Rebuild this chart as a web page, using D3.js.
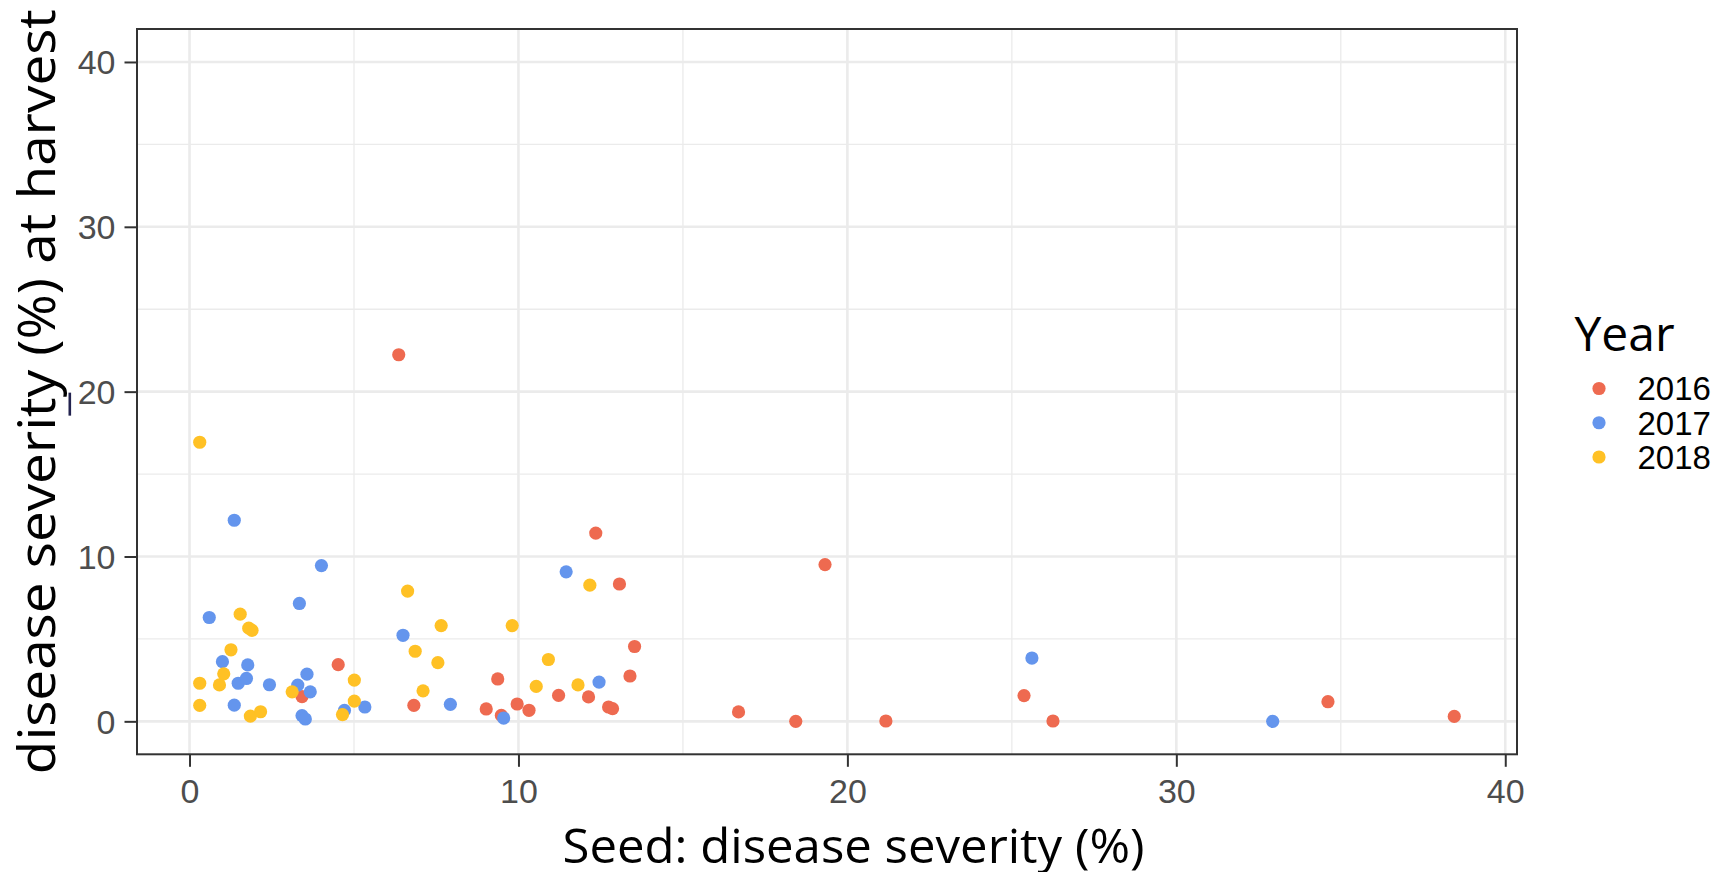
<!DOCTYPE html>
<html>
<head>
<meta charset="utf-8">
<script src="https://cdn.jsdelivr.net/npm/d3@7"></script>
<style>
  html, body { margin: 0; padding: 0; background: #ffffff; }
  svg { display: block; }
</style>
</head>
<body>
<svg id="chart" width="1730" height="872"></svg>
<script>
// Seed disease severity (%) vs disease severity (%) at harvest, by year
const years = ["2016", "2017", "2018"];
const yearColors = ["#EE6A50", "#6495ED", "#FFC125"];

const seed2016    = [6.36, 3.42, 4.52, 6.82, 9.02, 9.37, 9.48, 9.96, 10.32, 11.22, 12.13, 12.35, 13.07, 12.74, 12.86, 13.53, 13.39, 16.69, 18.43, 19.32, 21.17, 25.37, 26.25, 34.61, 38.45];
const harvest2016 = [22.24, 1.50, 3.44, 0.97, 0.75, 2.57, 0.36, 1.05, 0.67, 1.57, 1.48, 11.42, 8.33, 0.87, 0.77, 4.54, 2.75, 0.57, 0.00, 9.51, 0.02, 1.56, 0.02, 1.19, 0.30];

const seed2017    = [0.60, 1.00, 1.36, 1.36, 1.48, 1.73, 1.77, 2.43, 3.29, 3.34, 3.42, 3.52, 3.57, 3.67, 4.01, 4.71, 5.33, 6.49, 7.93, 9.55, 11.45, 12.45, 25.61, 32.93];
const harvest2017 = [6.30, 3.62, 12.20, 0.98, 2.31, 2.60, 3.42, 2.22, 2.20, 7.15, 0.35, 0.14, 2.86, 1.79, 9.45, 0.66, 0.87, 5.22, 1.03, 0.20, 9.07, 2.38, 3.84, 0.00];

const seed2018    = [0.31, 0.31, 0.31, 0.91, 1.04, 1.26, 1.54, 1.80, 1.90, 1.85, 2.16, 3.12, 4.65, 5.01, 5.01, 6.63, 6.86, 7.10, 7.55, 7.65, 9.81, 10.54, 10.91, 11.81, 12.17];
const harvest2018 = [16.93, 2.31, 0.97, 2.21, 2.88, 4.34, 6.50, 5.65, 5.52, 0.32, 0.58, 1.79, 0.41, 2.50, 1.23, 7.90, 4.25, 1.85, 3.56, 5.81, 5.81, 2.12, 3.75, 2.21, 8.26];

const xTicks = [0, 10, 20, 30, 40];
const yTicks = [0, 10, 20, 30, 40];
const xMinor = [5, 15, 25, 35];
const yMinor = [5, 15, 25, 35];
const yLimits = [0, 40];

const xTitle = "Seed: disease severity (%)";
const yTitle = "disease severity (%) at harvest";
const legendTitle = "Year";

const series = [
  { year: years[0], color: yearColors[0], xs: seed2016, ys: harvest2016 },
  { year: years[1], color: yearColors[1], xs: seed2017, ys: harvest2017 },
  { year: years[2], color: yearColors[2], xs: seed2018, ys: harvest2018 }
];

// panel geometry
const panel = { left: 137, right: 1517, top: 29, bottom: 754.3 };

// ggplot-style 5% expansion of the x data range and of the y limits
const allX = [].concat(seed2016, seed2017, seed2018);
const [xLo, xHi] = d3.extent(allX);
const xPad = (xHi - xLo) * 0.05;
const yPad = (yLimits[1] - yLimits[0]) * 0.05;

const x = d3.scaleLinear().domain([xLo - xPad, xHi + xPad]).range([panel.left, panel.right]);
const y = d3.scaleLinear().domain([yLimits[0] - yPad, yLimits[1] + yPad]).range([panel.bottom, panel.top]);

const svg = d3.select("#chart");
const gridColor = "#EBEBEB";
const inkColor = "#333333";

// gridlines
const grid = svg.append("g");
grid.selectAll("line.xminor").data(xMinor).join("line")
  .attr("x1", d => x(d)).attr("x2", d => x(d))
  .attr("y1", panel.top).attr("y2", panel.bottom)
  .attr("stroke", gridColor).attr("stroke-width", 1.3);
grid.selectAll("line.yminor").data(yMinor).join("line")
  .attr("y1", d => y(d)).attr("y2", d => y(d))
  .attr("x1", panel.left).attr("x2", panel.right)
  .attr("stroke", gridColor).attr("stroke-width", 1.3);
grid.selectAll("line.xmajor").data(xTicks).join("line")
  .attr("x1", d => x(d)).attr("x2", d => x(d))
  .attr("y1", panel.top).attr("y2", panel.bottom)
  .attr("stroke", gridColor).attr("stroke-width", 2.6);
grid.selectAll("line.ymajor").data(yTicks).join("line")
  .attr("y1", d => y(d)).attr("y2", d => y(d))
  .attr("x1", panel.left).attr("x2", panel.right)
  .attr("stroke", gridColor).attr("stroke-width", 2.6);

// points, drawn year by year
const pts = svg.append("g");
series.forEach(s => {
  pts.append("g").selectAll("circle").data(d3.range(s.xs.length)).join("circle")
    .attr("cx", i => x(s.xs[i]))
    .attr("cy", i => y(s.ys[i]))
    .attr("r", 6.6)
    .attr("fill", s.color);
});

// panel border
svg.append("rect")
  .attr("x", panel.left).attr("y", panel.top)
  .attr("width", panel.right - panel.left).attr("height", panel.bottom - panel.top)
  .attr("fill", "none").attr("stroke", inkColor).attr("stroke-width", 2);

// axes
const xAxis = d3.axisBottom(x).tickValues(xTicks).tickSize(12.5).tickPadding(12).tickFormat(d3.format("d"));
const yAxis = d3.axisLeft(y).tickValues(yTicks).tickSize(12.5).tickPadding(9).tickFormat(d3.format("d"));

const gx = svg.append("g").attr("transform", `translate(0,${panel.bottom})`).call(xAxis);
const gy = svg.append("g").attr("transform", `translate(${panel.left},0)`).call(yAxis);
[gx, gy].forEach(g => {
  g.select(".domain").remove();
  g.selectAll(".tick line").attr("stroke", inkColor).attr("stroke-width", 2);
  g.selectAll(".tick text")
    .attr("fill", "#4D4D4D")
    .style("font-family", "'Liberation Sans', Arial, sans-serif")
    .style("font-size", "34px");
});
gx.selectAll(".tick text").attr("dy", "0.72em");
gy.selectAll(".tick text").attr("dy", "0.35em");

// axis titles
svg.append("text")
  .attr("x", 853.5).attr("y", 863)
  .attr("text-anchor", "middle")
  .attr("textLength", 582).attr("lengthAdjust", "spacingAndGlyphs")
  .style("font-family", "'Open Sans', sans-serif")
  .style("font-size", "48px")
  .attr("fill", "#000000")
  .text(xTitle);

svg.append("text")
  .attr("transform", `translate(55,${(panel.top + panel.bottom) / 2}) rotate(-90)`)
  .attr("text-anchor", "middle")
  .attr("textLength", 765).attr("lengthAdjust", "spacingAndGlyphs")
  .style("font-family", "'Open Sans', sans-serif")
  .style("font-size", "52px")
  .attr("fill", "#000000")
  .text(yTitle);

// small caret mark beside the y axis title
svg.append("rect")
  .attr("x", 68.5).attr("y", y(20) + 1)
  .attr("width", 2.6).attr("height", 23)
  .attr("fill", "#23234f");

// legend
const legend = svg.append("g");
legend.append("text")
  .attr("x", 1574.5).attr("y", 351)
  .style("font-family", "'Open Sans', sans-serif")
  .style("font-size", "48px")
  .attr("fill", "#000000")
  .text(legendTitle);

const keyY = d3.scalePoint().domain(years).range([388.5, 457]);
const keys = legend.selectAll("g.key").data(series).join("g")
  .attr("transform", d => `translate(0,${keyY(d.year)})`);
keys.append("circle")
  .attr("cx", 1599).attr("cy", 0).attr("r", 6.6)
  .attr("fill", d => d.color);
keys.append("text")
  .attr("x", 1637.5).attr("y", 0).attr("dy", "0.36em")
  .style("font-family", "'Liberation Sans', Arial, sans-serif")
  .style("font-size", "33px")
  .attr("fill", "#000000")
  .text(d => d.year);
</script>
</body>
</html>
